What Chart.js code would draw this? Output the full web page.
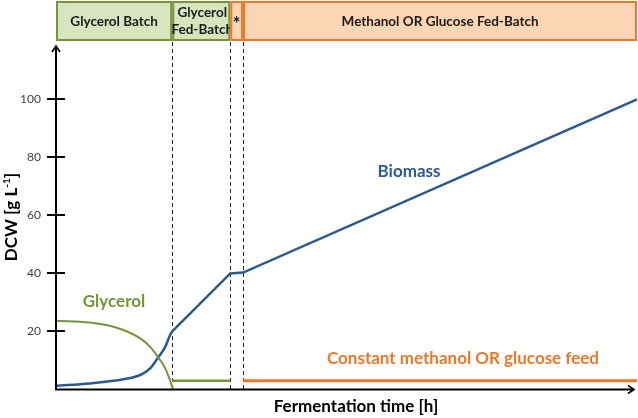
<!DOCTYPE html>
<html>
<head>
<meta charset="utf-8">
<script src="https://cdn.jsdelivr.net/npm/chart.js@4.4.1/dist/chart.umd.min.js"></script>
<style>
  body { margin: 0; background: #fff; }
  #wrap { width: 638px; height: 418px; }
</style>
</head>
<body>
<div id="wrap"><canvas id="myChart" width="638" height="418"></canvas></div>
<script>
// fermentation time (arbitrary units, 0-100) and DCW values
var timeBiomassGrowth = [0, 5.85, 11.6, 14.5, 16.2, 17.6, 18.8, 19.6, 20];
var biomassGrowth = [1.3, 2.1, 3.5, 5, 7.3, 11.1, 14.7, 18.6, 20];
var timeBiomassFed = [20, 30, 32.2, 100];
var biomassFed = [20, 40, 40.3, 100];
var timeGlycerol = [0, 5.85, 8.7, 11.6, 14.5, 16.2, 17.6, 18.8, 19.6, 20.1];
var glycerol = [23.7, 23.1, 22.2, 20.5, 17.6, 14.7, 11.1, 7.3, 3.3, 0.3];
var timeGlycerolFeed = [20, 30];
var glycerolFeed = [3, 3];
var timeSubstrateFeed = [32.2, 100];
var substrateFeed = [3, 3];

var phaseBounds = [0, 20, 30, 32.2, 100];
var phaseLabels = [["Glycerol Batch"], ["Glycerol", "Fed-Batch"], ["*"], ["Methanol OR Glucose Fed-Batch"]];
var yTicks = [20, 40, 60, 80, 100];

var blue = "#2c5a8e";
var green = "#77933c";
var orange = "#e8782a";

function toPoints(xs, ys) {
  var pts = [];
  for (let i = 0; i < xs.length; i++) {
    pts.push({x: xs[i], y: ys[i]});
  }
  return pts;
}

function lineSet(xs, ys, color, width, smooth) {
  return {
    data: toPoints(xs, ys),
    borderColor: color,
    borderWidth: width,
    pointRadius: 0,
    fill: false,
    cubicInterpolationMode: smooth ? "monotone" : "default",
    tension: 0
  };
}

function arrowHead(ctx, x, y, dir) {
  ctx.beginPath();
  if (dir == "up") {
    ctx.moveTo(x - 4, y + 6); ctx.lineTo(x, y); ctx.lineTo(x + 4, y + 6);
  } else {
    ctx.moveTo(x - 6, y - 4); ctx.lineTo(x, y); ctx.lineTo(x - 6, y + 4);
  }
  ctx.stroke();
}

var decorations = {
  id: "decorations",
  beforeDatasetsDraw: function(chart) {
    var ctx = chart.ctx;
    var xs = chart.scales.x;
    var area = chart.chartArea;
    ctx.save();
    ctx.strokeStyle = "#222";
    ctx.lineWidth = 1;
    ctx.setLineDash([4, 3]);
    for (let i = 1; i < phaseBounds.length - 1; i++) {
      var px = Math.round(xs.getPixelForValue(phaseBounds[i])) + 0.5;
      ctx.beginPath();
      ctx.moveTo(px, 42);
      ctx.lineTo(px, area.bottom);
      ctx.stroke();
    }
    ctx.restore();
  },
  afterDraw: function(chart) {
    var ctx = chart.ctx;
    var xs = chart.scales.x;
    var ys = chart.scales.y;
    var area = chart.chartArea;
    ctx.save();

    // phase banner
    for (let i = 0; i < phaseLabels.length; i++) {
      var x0 = xs.getPixelForValue(phaseBounds[i]);
      var x1 = xs.getPixelForValue(phaseBounds[i + 1]);
      var isGreen = i < 2;
      ctx.fillStyle = isGreen ? "#d7e4bd" : "#fcd5b5";
      ctx.strokeStyle = isGreen ? green : orange;
      ctx.lineWidth = 2;
      ctx.fillRect(x0, 2, x1 - x0, 38);
      ctx.strokeRect(x0 + 1, 2, x1 - x0 - 2, 38);
      ctx.fillStyle = "#1a1a1a";
      ctx.font = "bold 13.5px Lato";
      ctx.textAlign = "center";
      ctx.textBaseline = "middle";
      var lines = phaseLabels[i];
      var cx = (x0 + x1) / 2;
      if (lines[0] == "*") {
        ctx.font = "bold 18px Lato";
        ctx.fillText("*", cx, 24);
      } else if (lines.length == 1) {
        ctx.fillText(lines[0], cx, 22);
      } else {
        ctx.fillText(lines[0], cx + 1, 13);
        ctx.fillText(lines[1], cx + 1, 30);
      }
    }

    // axes
    ctx.strokeStyle = "#000";
    ctx.lineWidth = 2;
    ctx.beginPath();
    ctx.moveTo(area.left, 46);
    ctx.lineTo(area.left, area.bottom);
    ctx.lineTo(634, area.bottom);
    ctx.stroke();
    ctx.lineWidth = 1.6;
    arrowHead(ctx, area.left, 46, "up");
    arrowHead(ctx, 634, area.bottom, "right");

    // y ticks
    ctx.lineWidth = 2;
    ctx.fillStyle = "#404040";
    ctx.font = "12px Lato";
    ctx.textAlign = "right";
    ctx.textBaseline = "middle";
    for (let i = 0; i < yTicks.length; i++) {
      var py = Math.round(ys.getPixelForValue(yTicks[i]));
      ctx.beginPath();
      ctx.moveTo(area.left - 9, py);
      ctx.lineTo(area.left + 9, py);
      ctx.stroke();
      ctx.fillText(String(yTicks[i]), 41, py);
    }

    // curve labels
    ctx.textAlign = "center";
    ctx.font = "bold 17px Lato";
    ctx.fillStyle = green;
    ctx.fillText("Glycerol", 114, 302);
    ctx.fillStyle = blue;
    ctx.fillText("Biomass", 409, 172);
    ctx.fillStyle = orange;
    ctx.fillText("Constant methanol OR glucose feed", 463, 359);

    // axis titles
    ctx.fillStyle = "#000";
    ctx.font = "bold 17px Lato";
    ctx.fillText("Fermentation time [h]", 356, 407);

    ctx.translate(12, 217);
    ctx.rotate(-Math.PI / 2);
    ctx.textAlign = "left";
    var t1 = "DCW [g L";
    var sup = "-1";
    var t2 = "]";
    var w1 = ctx.measureText(t1).width;
    var w3 = ctx.measureText(t2).width;
    ctx.font = "bold 10px Lato";
    var w2 = ctx.measureText(sup).width;
    var start = -(w1 + w2 + w3) / 2;
    ctx.font = "bold 17px Lato";
    ctx.fillText(t1, start, 0);
    ctx.font = "bold 10px Lato";
    ctx.fillText(sup, start + w1, -5);
    ctx.font = "bold 17px Lato";
    ctx.fillText(t2, start + w1 + w2, 0);

    ctx.restore();
  }
};

new Chart("myChart", {
  type: "line",
  data: {
    datasets: [
      lineSet(timeGlycerol, glycerol, green, 2, true),
      lineSet(timeGlycerolFeed, glycerolFeed, green, 2.5, false),
      lineSet(timeSubstrateFeed, substrateFeed, orange, 3, false),
      lineSet(timeBiomassGrowth, biomassGrowth, blue, 2.5, true),
      lineSet(timeBiomassFed, biomassFed, blue, 2.5, false)
    ]
  },
  options: {
    responsive: false,
    animation: false,
    layout: { padding: { left: 56, right: 1, top: 46, bottom: 28.5 } },
    scales: {
      x: { type: "linear", min: 0, max: 100, display: false },
      y: { type: "linear", min: 0, max: 118.4, display: false }
    },
    plugins: {
      legend: { display: false },
      tooltip: { enabled: false }
    }
  },
  plugins: [decorations]
});
</script>
</body>
</html>
